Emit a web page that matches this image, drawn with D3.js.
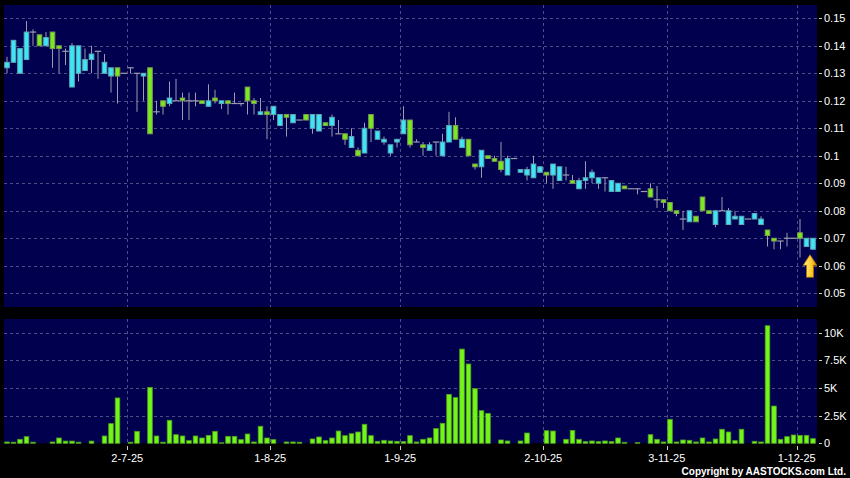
<!DOCTYPE html>
<meta charset="utf-8">
<style>
body { margin: 0; background: #000; }
text {
  font-family: "Liberation Sans", Arial, sans-serif;
  font-size: 11px;
  fill: #fff;
}
</style>
<svg width="850" height="478"></svg>
<script src="https://d3js.org/d3.v7.min.js"></script>
<script>
// daily OHLC in thousandths of a dollar, oldest first
var opens  = [134,142,139,145,145,140,143,139,139,138,140,140,135,137,138,134,132,129,130,132,
              130,130,108,116,118,121,120,120,120,120,119,120,120,120,119,119,119,120,119,116,
              115,118,115,114,115,113,113,115,115,111,114,108,106,107,100,110,110,109,106,104,
              106,113,104,105,103,104,105,105,111,106,106,100, 96,102, 99, 98, 95, 99, 99, 95,
               95, 97, 96, 93, 97, 96, 93, 90, 91, 92, 94, 92, 92, 91, 90, 88, 88, 88, 87, 85,
               84, 83, 80, 79, 77, 80, 76, 80, 79, 80, 80, 80, 78, 78, 77, 79, 77, 71, 69, 69,
               70, 70, 70, 70, 70];
var highs  = [136,142,139,149,146,144,145,145,140,139,141,140,139,140,138,137,132,132,130,132,
              130,130,132,120,120,127,128,123,123,123,120,126,124,120,120,123,119,125,121,121,
              118,118,115,115,115,113,115,115,115,112,115,113,108,110,103,112,115,109,107,104,
              106,118,113,106,105,105,105,108,116,114,107,106, 97,102,100,100,105,100, 99, 95,
               96,100, 96, 94, 97, 96, 96, 93, 92, 98, 95, 92, 92, 91, 90, 89, 88, 88, 87, 90,
               89, 84, 83, 80, 80, 80, 78, 85, 80, 80, 85, 81, 80, 78, 77, 79, 78, 73, 70, 69,
               72, 70, 77, 70, 70];
var lows   = [130,134,130,135,140,140,140,132,130,133,125,127,131,130,128,130,123,119,130,130,
              116,120,108,115,115,118,120,113,113,118,119,118,119,117,115,119,118,115,115,115,
              106,113,111,107,112,113,113,108,109,111,107,108,104,103,100,101,105,106,104,100,
              103,108,103,105,100,102,100,100,105,106,103,100, 95, 92, 99, 98, 94, 93, 99, 94,
               91, 92, 94, 90, 88, 91, 91, 90, 88, 88, 90, 88, 87, 87, 87, 88, 88, 86, 87, 85,
               81, 81, 80, 78, 73, 76, 76, 80, 79, 74, 80, 75, 77, 75, 77, 77, 75, 67, 66, 66,
               67, 70, 63, 67, 66];
var closes = [132,134,130,135,145,144,140,145,140,138,125,130,131,135,138,130,129,132,130,132,
              130,129,132,116,120,119,120,121,120,120,120,118,121,119,120,119,119,125,120,115,
              116,115,111,115,112,113,115,110,109,112,111,108,108,103,102,101,115,106,105,101,
              105,108,113,105,104,102,105,100,105,111,103,106, 97, 96,100, 99, 98, 93, 99, 94,
               93, 92, 94, 94, 93, 91, 93, 91, 88, 91, 92, 90, 92, 87, 87, 89, 88, 88, 87, 88,
               84, 84, 83, 80, 77, 76, 78, 85, 80, 75, 80, 75, 77, 75, 77, 77, 75, 73, 70, 69,
               70, 70, 72, 67, 66];
// daily volume, thousands
var volumes = [0.12,0.1,0.36,0.6,0.1,0,0,0.12,0.48,0.2,0.2,0.1,0,0.2,0,0.66,1.78,4.1,0,0.1,
               1.08,0,5.06,0.66,0.1,2.08,0.78,0.66,0.24,0.66,0.48,0.72,1.08,0.05,0.63,0.63,0.33,0.84,0.12,1.54,
               0.48,0.33,0,0.12,0.12,0.1,0,0.39,0.57,0.24,0.48,1.11,0.69,0.87,1.02,1.72,0.69,0.18,0.27,0.21,
               0.18,0.15,0.69,0.12,0.36,0.48,1.33,1.81,4.43,4.13,8.52,7.17,4.94,2.95,2.71,0,0.3,0.21,0,0.21,
               0.93,0,0,1.14,1.11,0,0.36,1.17,0.36,0.15,0.21,0.15,0.21,0.15,0.48,0.09,0,0.06,0,0.78,
               0.36,0.12,2.17,0.12,0.3,0.27,0.12,0.48,0.12,0.39,1.27,1.02,0.24,1.27,0,0.18,0.12,10.63,3.37,0.36,
               0.6,0.75,0.72,0.72,0.42];

var dateLabels = ["2-7-25", "1-8-25", "1-9-25", "2-10-25", "3-11-25", "1-12-25"];
var dateIdx = [18.5, 40.5, 60.5, 82.5, 101.5, 121.5];   // month boundaries, in bar index
var priceTicks = [0.05, 0.06, 0.07, 0.08, 0.09, 0.1, 0.11, 0.12, 0.13, 0.14, 0.15];
var volTicks = [0, 2.5, 5, 7.5, 10];
var volTickLabels = ["0", "2.5K", "5K", "7.5K", "10K"];

var N = closes.length;
var svg = d3.select("svg");

var x = d3.scaleLinear().domain([-0.5, N - 0.5]).range([3.75, 816.25]);
var y = d3.scaleLinear().domain([0.045, 0.15484]).range([307, 5]);
var yv = d3.scaleLinear().domain([0, 11.24]).range([443.3, 319]);

var navy = "#00004f", grid = "#4c4c86";

// panels
svg.append("rect").attr("x", 4).attr("y", 5).attr("width", 813).attr("height", 302).attr("fill", navy);
svg.append("rect").attr("x", 4).attr("y", 319).attr("width", 813).attr("height", 124.3).attr("fill", navy);

var g = svg.append("g").attr("stroke", grid).attr("stroke-dasharray", "3,3").attr("shape-rendering", "crispEdges");
g.selectAll(".hp").data(priceTicks).enter().append("line")
  .attr("x1", 4).attr("x2", 817)
  .attr("y1", d => Math.round(y(d)) + 0.5).attr("y2", d => Math.round(y(d)) + 0.5);
g.selectAll(".hv").data(volTicks.slice(1)).enter().append("line")
  .attr("x1", 4).attr("x2", 817)
  .attr("y1", d => Math.round(yv(d)) + 0.5).attr("y2", d => Math.round(yv(d)) + 0.5);
g.selectAll(".vp").data(dateIdx).enter().append("line")
  .attr("x1", d => Math.round(x(d)) + 0.5).attr("x2", d => Math.round(x(d)) + 0.5)
  .attr("y1", 5).attr("y2", 307);
g.selectAll(".vv").data(dateIdx).enter().append("line")
  .attr("x1", d => Math.round(x(d)) + 0.5).attr("x2", d => Math.round(x(d)) + 0.5)
  .attr("y1", 319).attr("y2", 443);

// candles
var bars = d3.range(N).map(function(i) {
  return {i: i, o: opens[i] / 1000, h: highs[i] / 1000, l: lows[i] / 1000, c: closes[i] / 1000, v: volumes[i]};
});

var cg = svg.append("g");
cg.selectAll(".wick").data(bars).enter().append("line")
  .attr("x1", d => x(d.i)).attr("x2", d => x(d.i))
  .attr("y1", d => y(d.h)).attr("y2", d => y(d.l))
  .attr("stroke", "#9c9cae").attr("stroke-width", 1);

cg.selectAll(".doji").data(bars.filter(d => d.o == d.c)).enter().append("line")
  .attr("x1", d => x(d.i) - 3.2).attr("x2", d => x(d.i) + 3.2)
  .attr("y1", d => y(d.c)).attr("y2", d => y(d.c))
  .attr("stroke", "#9c9cae").attr("stroke-width", 1.2);

cg.selectAll(".body").data(bars.filter(d => d.o != d.c)).enter().append("rect")
  .attr("x", d => x(d.i) - 2.3).attr("width", 4.6)
  .attr("y", d => y(Math.max(d.o, d.c)))
  .attr("height", d => y(Math.min(d.o, d.c)) - y(Math.max(d.o, d.c)))
  .attr("fill", d => d.c > d.o ? "#78ea1e" : "#3ce6f4")
  .attr("stroke", d => d.c > d.o ? "#7f9c52" : "#5fa6b6")
  .attr("stroke-width", 1);

// volume
svg.append("g").selectAll("rect").data(bars.filter(d => d.v > 0)).enter().append("rect")
  .attr("x", d => x(d.i) - 2.3).attr("width", 4.6)
  .attr("y", d => yv(d.v))
  .attr("height", d => yv(0) - yv(d.v))
  .attr("fill", "#74f51a").attr("stroke", "#4f9e1c").attr("stroke-width", 0.8);

// last price arrow
var last = bars[N - 1];
var ax = x(last.i) - 3, ay = y(last.l) + 5.5;
var grad = svg.append("defs").append("linearGradient").attr("id", "ag")
  .attr("x1", 0).attr("x2", 1).attr("y1", 0).attr("y2", 0);
grad.append("stop").attr("offset", "0%").attr("stop-color", "#fff2a0");
grad.append("stop").attr("offset", "60%").attr("stop-color", "#ffc928");
grad.append("stop").attr("offset", "100%").attr("stop-color", "#d89400");
svg.append("path")
  .attr("d", "M" + ax + "," + ay + " l6.8,10.5 l-3.3,0 l0,12 l-7,0 l0,-12 l-3.3,0 z")
  .attr("fill", "url(#ag)").attr("stroke", "#a87000").attr("stroke-width", 0.8);

// right axes
var ra = svg.append("g");
ra.selectAll(".pt").data(priceTicks).enter().append("line")
  .attr("x1", 819).attr("x2", 822)
  .attr("y1", d => Math.round(y(d)) + 0.5).attr("y2", d => Math.round(y(d)) + 0.5)
  .attr("stroke", "#ccc");
ra.selectAll(".pl").data(priceTicks).enter().append("text")
  .attr("x", 824).attr("y", d => y(d) + 4)
  .text(d => d3.format("~g")(d));
ra.selectAll(".vt").data(volTicks).enter().append("line")
  .attr("x1", 819).attr("x2", 822)
  .attr("y1", d => Math.round(yv(d)) + 0.5).attr("y2", d => Math.round(yv(d)) + 0.5)
  .attr("stroke", "#ccc");
ra.selectAll(".vl").data(volTicks).enter().append("text")
  .attr("x", 824).attr("y", d => yv(d) + 4)
  .text((d, k) => volTickLabels[k]);

// date axis
var da = svg.append("g");
da.selectAll("line").data(dateIdx).enter().append("line")
  .attr("x1", d => Math.round(x(d)) + 0.5).attr("x2", d => Math.round(x(d)) + 0.5)
  .attr("y1", 446).attr("y2", 450).attr("stroke", "#ccc");
da.selectAll("text").data(dateIdx).enter().append("text")
  .attr("x", d => x(d)).attr("y", 462).attr("text-anchor", "middle")
  .text((d, k) => dateLabels[k]);

svg.append("text").attr("x", 846).attr("y", 475).attr("text-anchor", "end")
  .style("font-size", "10px").style("font-weight", "bold")
  .text("Copyright by AASTOCKS.com Ltd.");
</script>
